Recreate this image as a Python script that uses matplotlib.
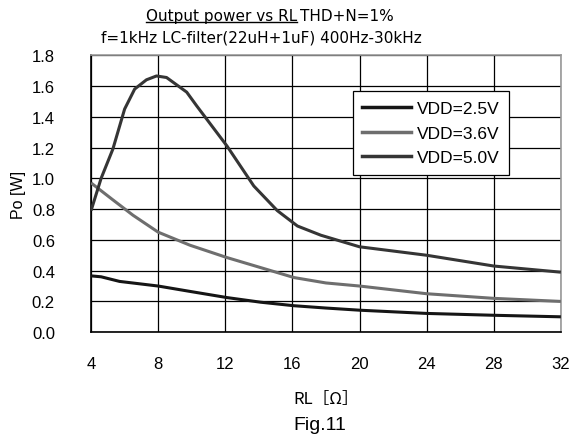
import matplotlib
matplotlib.use("Agg")
import matplotlib.pyplot as plt
from matplotlib.lines import Line2D

plt.rcParams['font.family'] = ['Liberation Sans', 'DejaVu Sans']

# RL [ohm] and output power [W]
rl_25 = [4, 4.6, 5.7, 8, 9.9, 12.1, 14.1, 16.1, 18, 20, 24, 28, 32]
po_25 = [0.366, 0.36, 0.33, 0.30, 0.265, 0.225, 0.195, 0.172, 0.157, 0.143, 0.122, 0.11, 0.10]

rl_36 = [4, 5.3, 6.5, 8, 9.9, 12.1, 14.1, 16.1, 18, 20, 24, 28, 32]
po_36 = [0.97, 0.86, 0.76, 0.65, 0.565, 0.485, 0.42, 0.355, 0.32, 0.30, 0.25, 0.22, 0.20]

rl_50 = [4, 4.6, 5.3, 6.0, 6.6, 7.3, 7.9, 8.5, 9.7, 10.3, 12.1, 13.7, 15.1, 16.3, 17.7, 20, 24, 28, 32]
po_50 = [0.79, 1.0, 1.19, 1.45, 1.58, 1.64, 1.665, 1.655, 1.56, 1.47, 1.21, 0.95, 0.79, 0.69, 0.63, 0.555, 0.50, 0.43, 0.39]

labels = ['VDD=2.5V', 'VDD=3.6V', 'VDD=5.0V']
colors = ['#151515', '#6e6e6e', '#353535']

xticks = [4, 8, 12, 16, 20, 24, 28, 32]
yticks = [0.0, 0.2, 0.4, 0.6, 0.8, 1.0, 1.2, 1.4, 1.6, 1.8]

fig = plt.figure(figsize=(5.8, 4.39), dpi=100)
ax = fig.add_axes([0.157, 0.241, 0.81, 0.631])

for x, y, c, lab in zip([rl_25, rl_36, rl_50], [po_25, po_36, po_50], colors, labels):
    ax.plot(x, y, color=c, lw=2.2, label=lab, zorder=3, solid_capstyle='butt')

ax.set_xlim(4, 32)
ax.set_ylim(0, 1.8)
ax.set_xticks(xticks)
ax.set_yticks(yticks)
ax.set_yticklabels(['%.1f' % v for v in yticks])
ax.grid(True, color='black', lw=0.9)
ax.tick_params(length=0, labelsize=12, pad=17)
ax.tick_params(axis='y', pad=26)
for s in ['top', 'right']:
    ax.spines[s].set_color('#999999')
for s in ['left', 'bottom']:
    ax.spines[s].set_color('black')
for s in ax.spines.values():
    s.set_linewidth(1.2)

ax.set_ylabel('Po [W]', fontsize=11.5, labelpad=4)
ax.set_xlabel('RL［Ω］', fontsize=12, labelpad=14,
              family=['Noto Sans CJK JP', 'DejaVu Sans'])

handles = [Line2D([], [], color=c, lw=2.5) for c in colors]
leg = ax.legend(handles, labels, loc='upper left', bbox_to_anchor=(0.557, 0.87),
                borderaxespad=0, fontsize=12.5, handlelength=2.8,
                handletextpad=0.35, labelspacing=0.55, borderpad=0.55,
                fancybox=False, framealpha=1, edgecolor='black')
leg.get_frame().set_linewidth(0.9)

tfam = ['DejaVu Sans']
t1 = fig.text(0.512, 0.963, 'Output power vs RL', ha='right', va='center',
              fontsize=11, family=tfam)
fig.text(0.518, 0.963, 'THD+N=1%', ha='left', va='center', fontsize=11, family=tfam)
fig.text(0.45, 0.913, 'f=1kHz LC-filter(22uH+1uF) 400Hz-30kHz', ha='center',
         va='center', fontsize=11, family=tfam)
fig.text(0.552, 0.03, 'Fig.11', ha='center', va='center', fontsize=14)

# underline the first part of the title
fig.canvas.draw()
bb = t1.get_window_extent().transformed(fig.transFigure.inverted())
fig.add_artist(Line2D([bb.x0, bb.x1], [bb.y0 + 0.002, bb.y0 + 0.002],
                      color='black', lw=1, transform=fig.transFigure))

fig.savefig('out.png', dpi=100)
